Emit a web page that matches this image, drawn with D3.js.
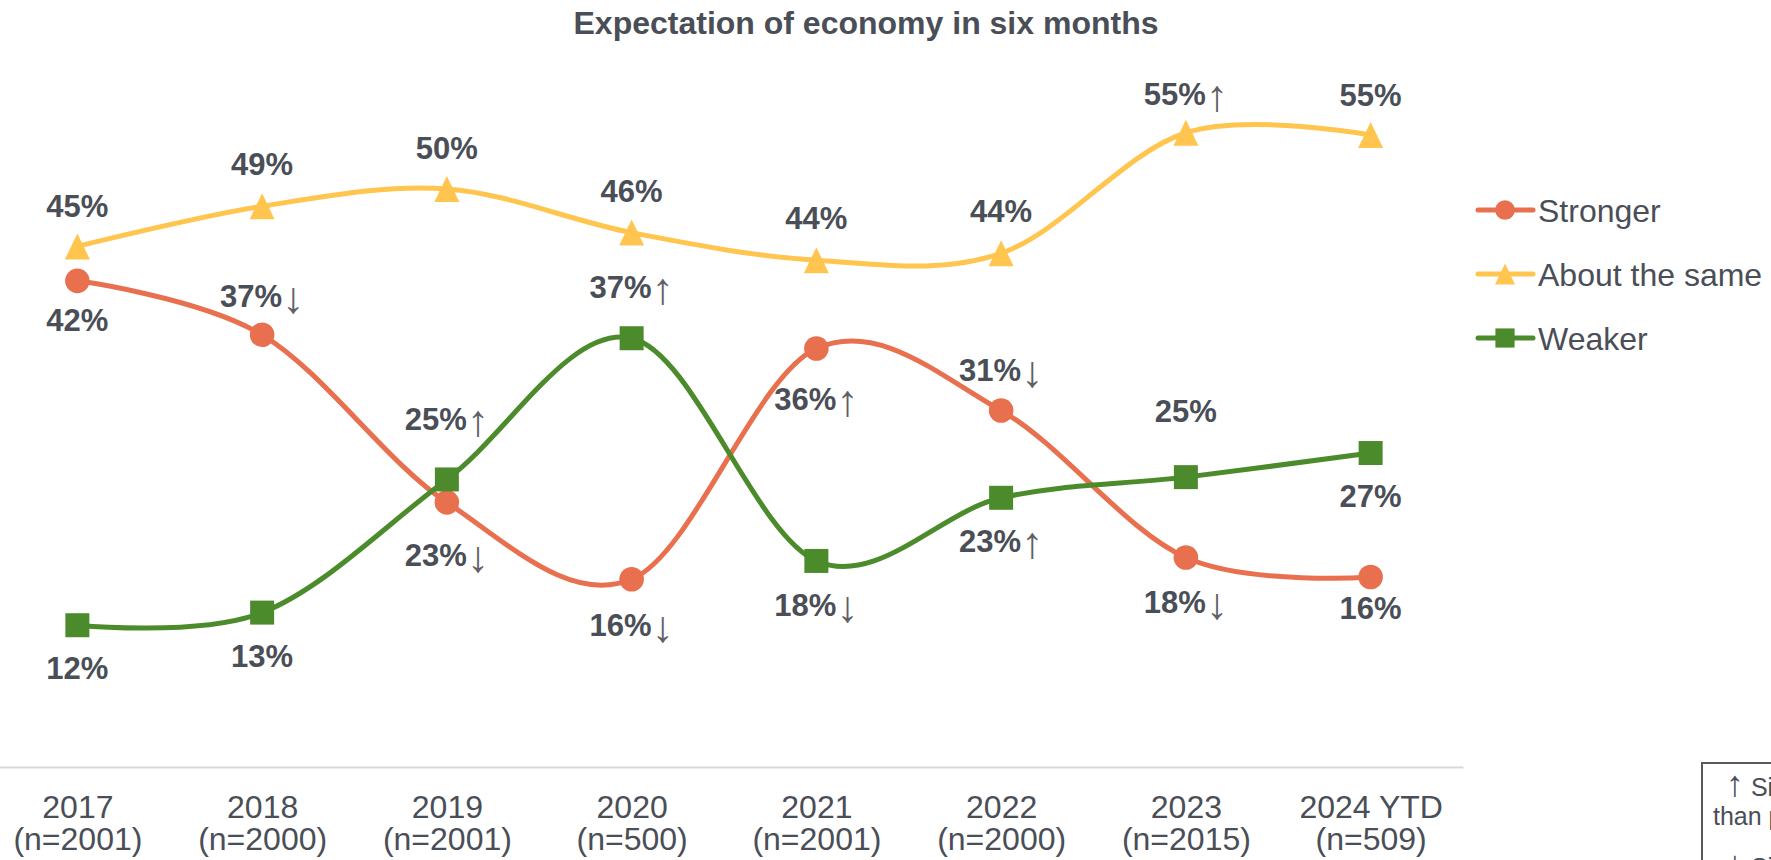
<!DOCTYPE html>
<html>
<head>
<meta charset="utf-8">
<script src="https://cdn.jsdelivr.net/npm/d3@7"></script>
<style>
  html, body { margin: 0; padding: 0; background: #fff; }
  svg { display: block; font-family: "Liberation Sans", Arial, sans-serif; }
</style>
</head>
<body>
<svg id="paper"></svg>
<script>
// data
const categories = ["2017", "2018", "2019", "2020", "2021", "2022", "2023", "2024 YTD"];
const sampleSizes = ["(n=2001)", "(n=2000)", "(n=2001)", "(n=500)", "(n=2001)", "(n=2000)", "(n=2015)", "(n=509)"];

const stronger = [42.0, 37.3, 22.7, 16.0, 36.1, 30.7, 17.9, 16.2];
const aboutSame = [45.0, 48.5, 50.0, 46.2, 43.8, 44.4, 54.9, 54.7];
const weaker = [12.0, 13.1, 24.7, 37.0, 17.6, 23.1, 24.9, 27.0];

// significance vs previous year
const strongerSig = ["", "↓", "↓", "↓", "↑", "↓", "↓", ""];
const aboutSameSig = ["", "", "", "", "", "", "↑", ""];
const weakerSig = ["", "", "↑", "↑", "↓", "↑", "", ""];

// label offset (px) from the marker, negative = above
const strongerLabelDy = [39, -39, 53, 46, 50, -41, 45, 31];
const aboutSameLabelDy = [-40, -42, -41, -42, -42, -42, -39, -40];
const weakerLabelDy = [43, 43, -60, -51, 44, 43, -66, 43];

const W = 1771, H = 860;
const textColor = "#4a4e57";

const series = [
  { name: "Stronger", values: stronger, sig: strongerSig, dy: strongerLabelDy, color: "#e8704f", shape: "circle" },
  { name: "About the same", values: aboutSame, sig: aboutSameSig, dy: aboutSameLabelDy, color: "#ffc54e", shape: "triangle" },
  { name: "Weaker", values: weaker, sig: weakerSig, dy: weakerLabelDy, color: "#4c8b2b", shape: "square" },
];

const svg = d3.select("#paper").attr("width", W).attr("height", H);

const x = d3.scalePoint().domain(categories).range([-15, 1463]).padding(0.5);
const y = d3.scaleLinear().domain([-0.35, 60]).range([767, 74.2]);

// markers
function marker(shape, s) {
  if (shape === "circle") return d3.symbol(d3.symbolCircle, Math.PI * 12.3 * 12.3 * s * s)();
  if (shape === "square") return d3.symbol(d3.symbolSquare, 24 * 24 * s * s)();
  const hw = 12.5 * s, hh = 13 * s;
  return `M0,${-hh}L${hw},${hh}L${-hw},${hh}Z`;
}

// title
svg.append("text")
  .attr("x", 866).attr("y", 34)
  .attr("text-anchor", "middle")
  .attr("font-size", 32).attr("font-weight", "bold")
  .attr("fill", textColor)
  .text("Expectation of economy in six months");

// x axis
const axis = svg.append("g")
  .attr("class", "axis-bottom")
  .attr("transform", `translate(0,${y.range()[0]})`)
  .call(d3.axisBottom(x).tickSize(0).tickSizeOuter(0));
axis.select(".domain").attr("stroke", "#d9d9d9").attr("stroke-width", 2);
axis.selectAll(".tick text").remove();
axis.selectAll(".tick").each(function (c, i) {
  const tick = d3.select(this);
  [c, sampleSizes[i]].forEach((str, k) => {
    tick.append("text")
      .attr("x", 0).attr("y", 51 + k * 32)
      .attr("text-anchor", "middle")
      .attr("font-size", 32)
      .attr("fill", textColor)
      .text(str);
  });
});

// lines
const line = d3.line()
  .x((d, i) => x(categories[i]))
  .y((d) => y(d))
  .curve(d3.curveCardinal.tension(0));

const groupLines = svg.append("g").attr("class", "lines");
series.forEach((s) => {
  groupLines.append("path")
    .attr("d", line(s.values))
    .attr("fill", "none")
    .attr("stroke", s.color)
    .attr("stroke-width", 5);
});

// markers
series.forEach((s) => {
  svg.append("g")
    .attr("class", "markers")
    .selectAll("path")
    .data(s.values)
    .enter()
    .append("path")
    .attr("transform", (d, i) => `translate(${x(categories[i])},${y(d)})`)
    .attr("d", marker(s.shape, 1))
    .attr("fill", s.color);
});

// data labels
series.forEach((s) => {
  const lab = svg.append("g")
    .attr("class", "labels")
    .selectAll("text")
    .data(s.values)
    .enter()
    .append("text")
    .attr("x", (d, i) => x(categories[i]))
    .attr("y", (d, i) => y(d) + s.dy[i] + 11)
    .attr("text-anchor", "middle")
    .attr("font-size", 31)
    .attr("fill", textColor);
  lab.append("tspan")
    .attr("font-weight", "bold")
    .text((d) => Math.round(d) + "%");
  lab.append("tspan")
    .attr("font-weight", "normal")
    .attr("font-size", 44)
    .attr("dy", 6)
    .attr("fill", "#5f6167")
    .text((d, i) => s.sig[i]);
});

// legend
const legend = svg.append("g").attr("class", "legend");
series.forEach((s, i) => {
  const ly = 210 + i * 64;
  legend.append("line")
    .attr("x1", 1478).attr("x2", 1533)
    .attr("y1", ly).attr("y2", ly)
    .attr("stroke", s.color).attr("stroke-width", 5)
    .attr("stroke-linecap", "round");
  legend.append("path")
    .attr("transform", `translate(1505,${ly})`)
    .attr("d", marker(s.shape, 0.8))
    .attr("fill", s.color);
  legend.append("text")
    .attr("x", 1538).attr("y", ly + 11.5)
    .attr("font-size", 32)
    .attr("fill", textColor)
    .text(s.name);
});

// significance note box (cut off at the edge)
const note = svg.append("g").attr("class", "note");
note.append("rect")
  .attr("x", 1702).attr("y", 763)
  .attr("width", 200).attr("height", 200)
  .attr("fill", "#fff")
  .attr("stroke", "#595959").attr("stroke-width", 2);
const noteLines = [
  { x: 1726, y: 796, arrow: "↑", text: " Significantly higher" },
  { x: 1713, y: 825, arrow: "", text: "than previous year" },
  { x: 1726, y: 876, arrow: "↓", text: " Significantly lower" },
];
noteLines.forEach((l) => {
  const t = note.append("text")
    .attr("x", l.x).attr("y", l.y)
    .attr("font-size", 25)
    .attr("fill", textColor);
  if (l.arrow) {
    t.append("tspan").attr("font-size", 36).attr("font-weight", "bold").text(l.arrow);
  }
  t.append("tspan").text(l.text);
});
</script>
</body>
</html>
